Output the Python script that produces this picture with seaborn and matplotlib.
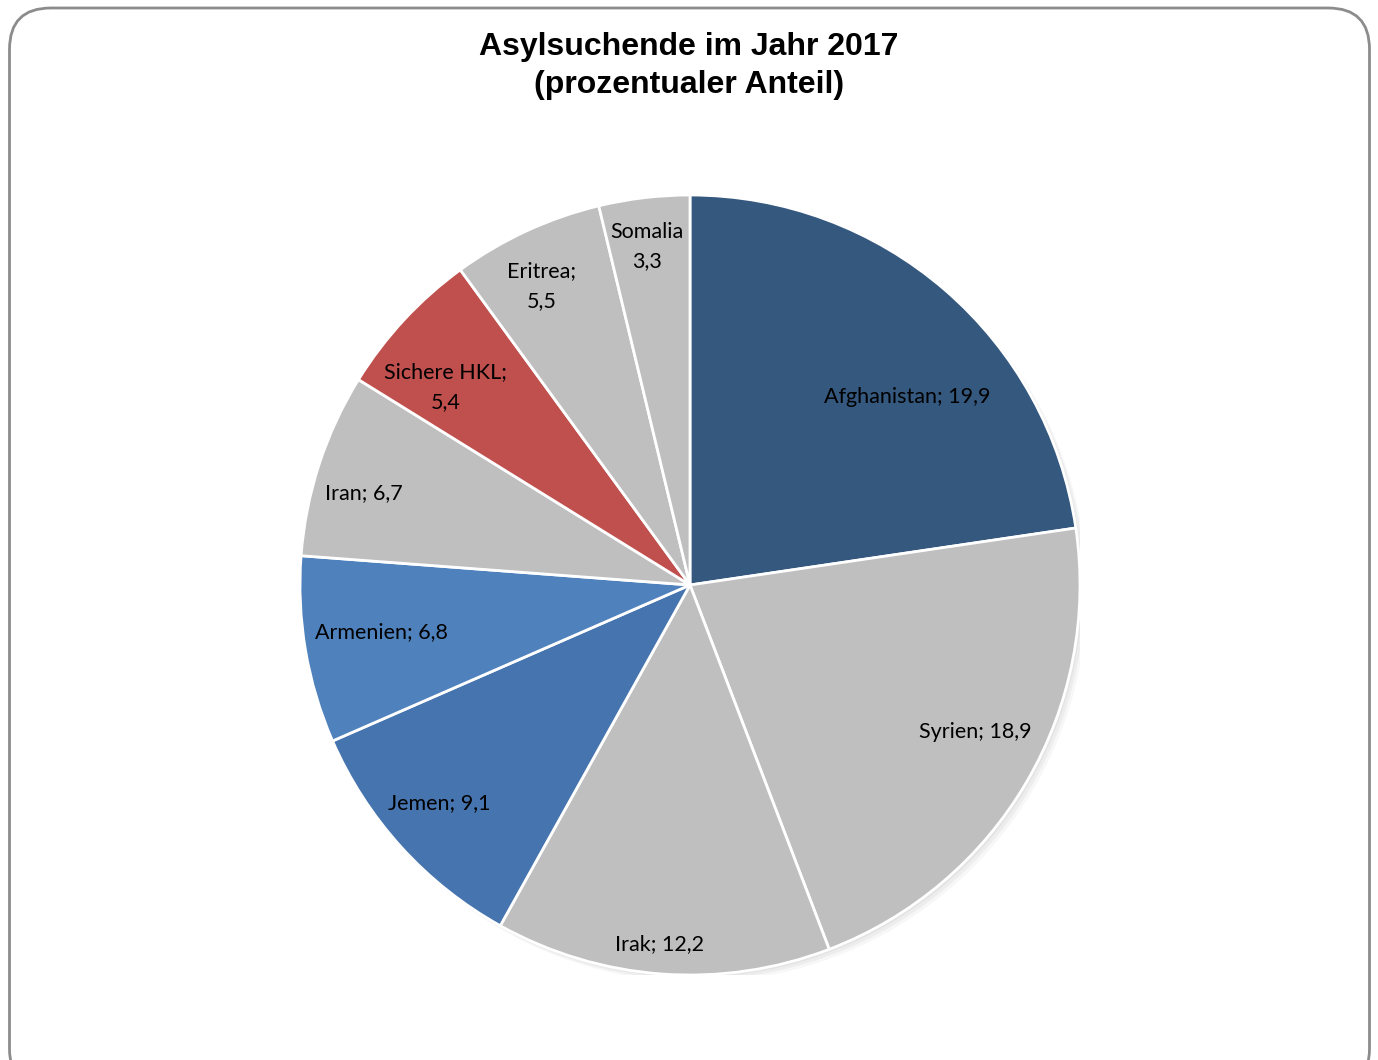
import matplotlib
matplotlib.use("Agg")
import matplotlib.pyplot as plt
import seaborn as sns
import numpy as np
from matplotlib.patches import FancyBboxPatch

# Data
countries = ["Afghanistan", "Syrien", "Irak", "Jemen", "Armenien", "Iran",
             "Sichere HKL", "Eritrea", "Somalia"]
shares = [19.9, 18.9, 12.2, 9.1, 6.8, 6.7, 5.4, 5.5, 3.3]
label_texts = ["Afghanistan; 19,9", "Syrien; 18,9", "Irak; 12,2", "Jemen; 9,1",
               "Armenien; 6,8", "Iran; 6,7", "Sichere HKL;\n5,4", "Eritrea;\n5,5",
               "Somalia\n3,3"]
title = "Asylsuchende im Jahr 2017\n(prozentualer Anteil)"

# Styles
colors = ["#35587F", "#BFBFBF", "#BFBFBF", "#4674AE", "#4F81BD", "#BFBFBF",
          "#C0504D", "#BFBFBF", "#BFBFBF"]
label_radius = [0.74, 0.82, 0.92, 0.85, 0.80, 0.87, 0.81, 0.86, 0.88]
label_angle_shift = [8.0, -3.3, 0.7, 1.5, 1.3, -2.0, -3.6, -1.5, -0.4]  # degrees, clockwise positive

sns.set_theme(style="white")
plt.rcParams['font.family'] = ['Lato', 'DejaVu Sans']

W, H = 1378, 1060
fig = plt.figure(figsize=(W / 100, H / 100), dpi=100)
fig.patch.set_facecolor("white")

# rounded border
border = FancyBboxPatch((9.5 / W, -30 / H), 1360 / W, 1082 / H,
                        boxstyle="round,pad=0,rounding_size=0.03",
                        transform=fig.transFigure, facecolor="none",
                        edgecolor="#8C8C8C", linewidth=2, mutation_aspect=W / H)
fig.add_artist(border)

cx, cy, R = 690, 585, 390
ax = fig.add_axes([(cx - R) / W, (H - cy - R) / H, 2 * R / W, 2 * R / H])

# soft shadow
for i, a in enumerate([0.04, 0.04, 0.03]):
    sh = plt.Circle((0.006 * (i + 1), -0.006 * (i + 1)), 1.0, color="#000000",
                    alpha=a, zorder=0, linewidth=0)
    ax.add_patch(sh)

wedges, _ = ax.pie(shares, colors=colors, startangle=90, counterclock=False,
                   radius=1.0, wedgeprops=dict(edgecolor="white", linewidth=2))
for w in wedges:
    w.set_zorder(2)

for w, txt, r, sh in zip(wedges, label_texts, label_radius, label_angle_shift):
    mid = np.deg2rad((w.theta1 + w.theta2) / 2 - sh)
    ax.text(r * np.cos(mid), r * np.sin(mid) - 0.005, txt, ha="center", va="center",
            fontsize=15.5, color="black", linespacing=1.6, zorder=3)

ax.set_xlim(-1, 1)
ax.set_ylim(-1, 1)
ax.set_aspect("equal")
ax.axis("off")

fig.text(0.5, 1 - 66 / H, title, ha="center", va="center",
         fontsize=23, fontweight="bold", family=["Liberation Sans", "DejaVu Sans"],
         color="black", linespacing=1.35)

fig.savefig("out.png", dpi=100, facecolor="white")
